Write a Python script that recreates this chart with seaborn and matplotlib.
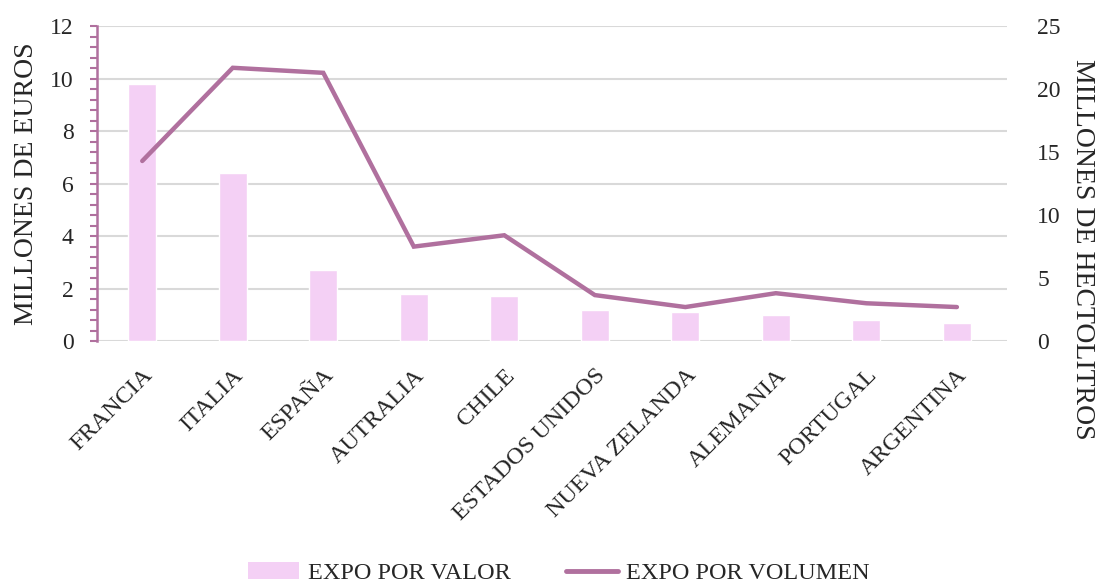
import numpy as np
import matplotlib
matplotlib.use("Agg")
import matplotlib.pyplot as plt
import seaborn as sns
from matplotlib.patches import Patch
from matplotlib.lines import Line2D
from matplotlib.ticker import MultipleLocator

# data
paises = ["FRANCIA", "ITALIA", "ESPAÑA", "AUTRALIA", "CHILE", "ESTADOS UNIDOS",
          "NUEVA ZELANDA", "ALEMANIA", "PORTUGAL", "ARGENTINA"]
valor = [9.8, 6.4, 2.7, 1.8, 1.7, 1.2, 1.1, 1.0, 0.8, 0.7]          # millones de euros
volumen = [14.3, 21.7, 21.3, 7.5, 8.4, 3.65, 2.7, 3.8, 3.0, 2.7]     # millones de hectolitros

bar_color = "#f4d0f5"
line_color = "#b0709e"
grid_color = "#d9d9d9"

sns.set_style("white")
plt.rcParams["font.family"] = ["Liberation Serif", "DejaVu Serif"]

fig = plt.figure(figsize=(10.96, 5.83), dpi=100)
ax = fig.add_axes([0.0885, 0.415, 0.830, 0.540])

sns.barplot(x=paises, y=valor, ax=ax, color=bar_color, width=0.31,
            saturation=1, zorder=2)
ax.set_ylim(0, 12)
ax.yaxis.set_major_locator(MultipleLocator(2))
ax.yaxis.set_minor_locator(MultipleLocator(0.4))
ax.grid(axis="y", color=grid_color, lw=1.5, zorder=0)
ax.set_axisbelow(True)
for s in ["top", "right", "bottom"]:
    ax.spines[s].set_visible(False)
ax.spines["left"].set_color(line_color)
ax.spines["left"].set_linewidth(1.8)
ax.tick_params(axis="y", which="both", direction="out", color=line_color,
               width=1.5, length=5, labelsize=17, pad=12)
ax.tick_params(axis="x", length=0, labelsize=17.5)
ax.set_xlabel("")
ax.set_ylabel("MILLONES DE EUROS", fontsize=20, labelpad=8)
ax.set_xticks(range(len(paises)))
ax.set_xticklabels(paises, rotation=45, ha="right", va="top",
                   rotation_mode="anchor")
for t in ax.get_xticklabels():
    t.set_y(-0.06)

ax2 = ax.twinx()
sns.pointplot(x=paises, y=volumen, ax=ax2, color=line_color, markers="",
              linewidth=3.2)
for ln in ax2.lines:
    ln.set_solid_capstyle("round")
    ln.set_solid_joinstyle("miter")
ax2.set_ylim(0, 25)
ax2.yaxis.set_major_locator(MultipleLocator(5))
for s in ax2.spines.values():
    s.set_visible(False)
ax2.tick_params(axis="y", length=0, labelsize=17, pad=22)
ax2.set_ylabel("MILLONES DE HECTOLITROS", fontsize=20, rotation=270,
               va="center")
ax2.yaxis.set_label_coords(1.083, 0.29)
ax2.set_xlabel("")
ax.set_xlim(-0.5, len(paises) - 0.45)

handles = [Patch(facecolor=bar_color, edgecolor="none"),
           Line2D([0], [0], color=line_color, lw=3.5, solid_capstyle="round")]
fig.legend(handles, ["EXPO POR VALOR", "EXPO POR VOLUMEN"], loc="lower center",
           bbox_to_anchor=(0.51, -0.04), ncol=2, frameon=False, fontsize=17.5,
           handlelength=2.1, handletextpad=0.35, columnspacing=2.3)

fig.savefig("out.png", dpi=100)
